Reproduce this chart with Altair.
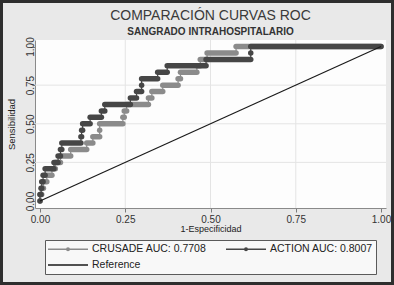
import altair as alt
import pandas as pd

# ---------------- data ----------------
series_names = ["CRUSADE AUC: 0.7708", "ACTION AUC: 0.8007", "Reference"]
series_colors = ["#8b8b8b", "#464646", "#1a1a1a"]

# sensitivity levels: k/24, k = 0..24
tpr_levels = [k / 24 for k in range(25)]

# for every sensitivity level: 1-specificity where the level starts / ends
crusade_start = [0, 0, .005, .01, .02, .035, .045, .06, .09, .137, .155, .175, .175,
                 .243, .247, .254, .318, .328, .36, .405, .412, .46, .47, .49, .575]
crusade_end = [0, .005, .01, .02, .035, .045, .06, .09, .137, .155, .175, .175, .243,
               .247, .254, .318, .328, .36, .405, .412, .46, .47, .49, .575, 1.0]
action_start = [0, 0, .003, .005, .009, .015, .041, .053, .06, .064, .12, .122, .125,
                .147, .18, .19, .265, .283, .298, .298, .345, .373, .487, .618, .618]
action_end = [0, .003, .005, .009, .015, .041, .053, .06, .064, .12, .122, .125, .147,
              .18, .19, .265, .283, .298, .298, .345, .373, .487, .618, .618, 1.0]

ref_fpr = [0, 1]
ref_tpr = [0, 1]

tick_vals = [0, 0.25, 0.5, 0.75, 1]
grid_vals = [0.25, 0.5, 0.75]

# ---------------- tables ----------------
def seg_table(name, starts, ends):
    return pd.DataFrame({"series": name, "tpr": tpr_levels, "x0": starts, "x1": ends})

def vert_table(name, starts, ends):
    rows = []
    i = 0
    for t, s, e in zip(tpr_levels, starts, ends):
        rows.append({"series": name, "idx": i, "fpr": s, "tpr": t}); i += 1
        rows.append({"series": name, "idx": i, "fpr": e, "tpr": t}); i += 1
    return pd.DataFrame(rows)

seg_c = seg_table(series_names[0], crusade_start, crusade_end)
seg_a = seg_table(series_names[1], action_start, action_end)
vert_c = vert_table(series_names[0], crusade_start, crusade_end)
vert_a = vert_table(series_names[1], action_start, action_end)
ref_df = pd.DataFrame({"series": series_names[2], "fpr": ref_fpr, "tpr": ref_tpr, "idx": [0, 1]})
grid_df = pd.DataFrame({"v": grid_vals})
legend_df = pd.DataFrame({"series": series_names, "fpr": [0, 0, 0], "tpr": [0, 0, 0]})
frame_df = pd.DataFrame({"a": [0]})

FONT = "Liberation Sans"

xs = alt.Scale(domain=[-5 / 341, 1 + 5 / 341], nice=False, zero=False)
ys = alt.Scale(domain=[-7 / 154.5, 1 + 6.5 / 154.5], nice=False, zero=False)

x_axis = alt.Axis(values=tick_vals, format=".2f", title="1-Especificidad", grid=False,
                  labelFontSize=10, labelColor="#333333", labelFont=FONT,
                  tickSize=4, tickColor="#7a7a7a", domainColor="#8a8a8a", labelPadding=2,
                  titleFont=FONT, titleFontSize=9, titleFontWeight="normal", titleColor="#222222",
                  titleBaseline="alphabetic", titleY=23, labelFlush=False)
y_axis = alt.Axis(values=tick_vals, format=".2f", title="Sensibilidad", grid=False,
                  labelFontSize=10, labelColor="#333333", labelFont=FONT,
                  labelAngle=270, labelAlign="center", labelBaseline="alphabetic",
                  tickSize=3, tickColor="#7a7a7a", domainColor="#8a8a8a", labelPadding=-1,
                  titleFont=FONT, titleFontSize=9.5, titleFontWeight="normal", titleColor="#222222",
                  titleAngle=270, titleAlign="center", titleBaseline="alphabetic",
                  titleX=-21, titleY=84, labelFlush=False)

def X(field):
    return alt.X(field, type="quantitative", scale=xs, axis=x_axis)

def Y(field):
    return alt.Y(field, type="quantitative", scale=ys, axis=y_axis)

color_scale = alt.Scale(domain=series_names, range=series_colors)
dot_line = "M-1.2,0H6.8M3.05,0A0.25,0.25,0,1,1,2.55,0A0.25,0.25,0,1,1,3.05,0Z"
plain_line = "M-1.2,0H6.8"
shape_scale = alt.Scale(domain=series_names, range=[dot_line, dot_line, plain_line])

grid_x = alt.Chart(grid_df).mark_rule(color="#e4e4e4", strokeWidth=1).encode(x=X("v"))
grid_y = alt.Chart(grid_df).mark_rule(color="#e4e4e4", strokeWidth=1).encode(y=Y("v"))

def curve(seg, vert, color):
    thin = alt.Chart(vert).mark_line(strokeWidth=1.2, color=color).encode(
        x=X("fpr"), y=Y("tpr"), order="idx:Q")
    thick = alt.Chart(seg).mark_rule(strokeWidth=5.5, strokeCap="round", color=color).encode(
        x=X("x0"), x2="x1", y=Y("tpr"))
    return [thin, thick]

ref_line = alt.Chart(ref_df).mark_line(strokeWidth=1.2, color=series_colors[2]).encode(
    x=X("fpr"), y=Y("tpr"), order="idx:Q")

leg = alt.Legend(title=None, orient="none", legendX=10, legendY=200, columns=2,
                 direction="horizontal",
                 gridAlign="all", padding=3, rowPadding=4, columnPadding=16,
                 labelOffset=32, symbolSize=100, symbolStrokeWidth=1.5,
                 labelFontSize=10.5, labelFont=FONT, labelColor="#222222",
                 fillColor="#f8f8f8", strokeColor="#5a5a5a", symbolOpacity=1)

legend_layer = alt.Chart(legend_df).transform_filter("datum.series == 'none'").mark_point(
    filled=False, opacity=1, size=100, strokeWidth=1.5).encode(
    x=X("fpr"), y=Y("tpr"),
    color=alt.Color("series:N", scale=color_scale, legend=leg),
    shape=alt.Shape("series:N", scale=shape_scale, legend=leg))

frame = alt.Chart(frame_df).mark_rect(fill=None, stroke="#2e2e2e", strokeWidth=3).encode(
    x=alt.value(-33.5), x2=alt.value(357.5), y=alt.value(-38.5), y2=alt.value(243.5))

layers = [grid_x, grid_y] + curve(seg_c, vert_c, series_colors[0]) + \
    curve(seg_a, vert_a, series_colors[1]) + [ref_line, legend_layer, frame]

chart = alt.layer(*layers).properties(
    width=351, height=168,
    autosize=alt.AutoSizeParams(type="none"),
    padding={"left": 35, "top": 40, "right": 8, "bottom": 77},
    background="#e9e9e9",
    title=alt.TitleParams(text="COMPARACIÓN CURVAS ROC", subtitle="SANGRADO INTRAHOSPITALARIO",
                          font=FONT, fontSize=14, fontWeight="normal", color="#3a3a3a",
                          subtitleFont=FONT, subtitleFontSize=10, subtitleFontWeight="bold",
                          subtitleColor="#333333", anchor="middle", offset=0, dy=37,
                          subtitlePadding=4),
).configure_view(fill="#fdfdfd", stroke=None)

chart.save("out.html", embed_options={"renderer": "svg", "actions": False})
